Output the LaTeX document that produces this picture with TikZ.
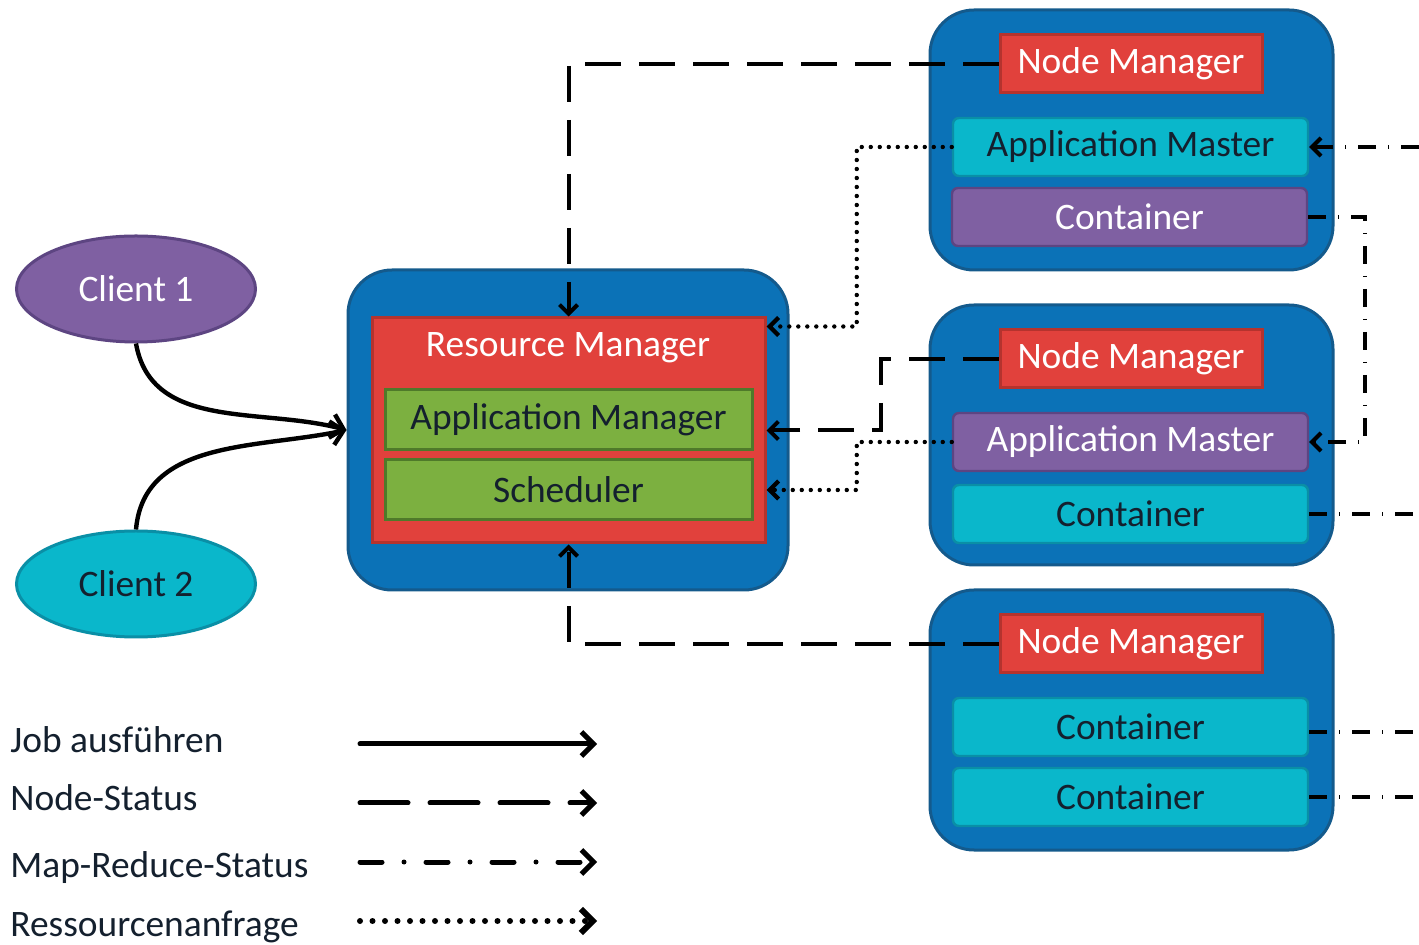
\documentclass[tikz,border=0pt]{standalone}
\usepackage{fontspec}
\setmainfont{Carlito}
\usetikzlibrary{arrows.meta,shapes.geometric}
\definecolor{cblue}{HTML}{0B72B7}
\definecolor{cbluedark}{HTML}{145A8C}
\definecolor{cred}{HTML}{E1413C}
\definecolor{creddark}{HTML}{B5332E}
\definecolor{cgreen}{HTML}{7CB040}
\definecolor{cgreendark}{HTML}{4F7A2A}
\definecolor{ccyan}{HTML}{0AB7CB}
\definecolor{ccyandark}{HTML}{0A8FA6}
\definecolor{cpurple}{HTML}{7F60A2}
\definecolor{cpurpledark}{HTML}{5D4582}
\definecolor{ctext}{HTML}{14202E}
\begin{document}
\begin{tikzpicture}[x=0.5pt,y=-0.5pt,
  font=\fontsize{18.7}{20}\selectfont,
  outerbox/.style={draw=cbluedark, fill=cblue, line width=1.5pt, rounded corners=22pt,
     minimum width=201.5pt, minimum height=130pt, inner sep=0pt},
  redbox/.style={draw=creddark, fill=cred, line width=1.5pt, inner sep=0pt, text=white},
  nmbox/.style={redbox, minimum width=131pt, minimum height=29pt},
  greenbox/.style={draw=cgreendark, fill=cgreen, line width=1.5pt, inner sep=0pt,
     minimum width=183.5pt, minimum height=30pt, text=ctext},
  cyanbox/.style={draw=ccyandark, fill=ccyan, line width=1.2pt, rounded corners=3pt, inner sep=0pt,
     minimum width=177.5pt, minimum height=29pt, text=ctext},
  purplebox/.style={draw=cpurpledark, fill=cpurple, line width=1.2pt, rounded corners=3pt, inner sep=0pt,
     minimum width=177.5pt, minimum height=29pt, text=white},
  client/.style={ellipse, draw, line width=1.5pt, minimum width=119.5pt, minimum height=53pt, inner sep=0pt},
  tip/.style={-{Straight Barb[length=4.5pt,width=9pt]}},
  bigtip/.style={-{Straight Barb[length=6pt,width=12pt]}},
  job/.style={line width=2.2pt, -{Straight Barb[length=6pt,width=12pt]}},
  nstat/.style={line width=2pt, dash pattern=on 18pt off 9pt, tip},
  mrstat/.style={line width=2pt, dash pattern=on 9pt off 6pt on 0.5pt off 6pt, tip},
  ressource/.style={line width=2.2pt, line cap=round, dash pattern=on 0pt off 4.5pt, tip},
  legtext/.style={anchor=west, text=ctext, inner sep=0pt}
]
\useasboundingbox (0,0) rectangle (1419,945);

% Resource manager block
\node[outerbox, minimum width=220pt, minimum height=160pt] (rmouter) at (568,430) {};
\node[redbox, minimum width=196.5pt, minimum height=112.5pt] (rmred) at (568.5,430.5) {};
\node[text=white, inner sep=0pt] (rmtext) at (568,348) {Resource Manager};
\node[greenbox] (appmgr) at (568.5,420) {Application Manager};
\node[greenbox] (sched) at (568.5,490) {Scheduler};

% Clients
\node[client, draw=cpurpledark, fill=cpurple, text=white] (client1) at (136,289) {Client 1};
\node[client, draw=ccyandark, fill=ccyan, text=ctext] (client2) at (136,584) {Client 2};

% Node 1
\node[outerbox] (node1) at (1131.5,140) {};
\node[nmbox] (nm1) at (1131,64) {Node Manager};
\node[cyanbox] (am1) at (1130.5,147) {Application Master};
\node[purplebox] (c1) at (1129.5,217) {Container};

% Node 2
\node[outerbox] (node2) at (1131.5,435) {};
\node[nmbox] (nm2) at (1131,359) {Node Manager};
\node[purplebox] (am2) at (1130.5,442) {Application Master};
\node[cyanbox] (c2) at (1130.5,514) {Container};

% Node 3
\node[outerbox] (node3) at (1131.5,720) {};
\node[nmbox] (nm3) at (1131,644) {Node Manager};
\node[cyanbox] (c3) at (1130.5,727) {Container};
\node[cyanbox] (c4) at (1130.5,797) {Container};

% Job connectors
\draw[job] (client1.south) to[out=-80,in=165] (rmouter.west);
\draw[job] (client2.north) to[out=85,in=192] (rmouter.west);

% Node status
\draw[nstat] (nm1.west) -| (rmred.north);
\draw[nstat] (nm2.west) -- ++(-118,0) |- (rmred.east);
\draw[nstat] (nm3.west) -| (rmred.south);

% Resource requests
\draw[ressource] (am1.west) -- ++(-95,0) |- ([yshift=-5pt]rmred.north east);
\draw[ressource] (am2.west) -- ++(-95,0) |- (rmred.east |- sched.east);

% Map-Reduce status
\coordinate (r1) at (1419,147);
\coordinate (r2) at (1419,514);
\coordinate (r3) at (1419,732);
\coordinate (r4) at (1419,797);
\draw[mrstat] (r1) -- (am1.east);
\draw[mrstat] (c1.east) -- ++(57,0) |- (am2.east);
\draw[mrstat, -] (c2.east) -- (r2);
\draw[mrstat, -] ([yshift=-2.5pt]c3.east) -- (r3);
\draw[mrstat, -] (c4.east) -- (r4);

% Legend
\node[legtext] (l1) at (10,740) {Job ausführen};
\node[legtext] (l2) at (10,798) {Node-Status};
\node[legtext] (l3) at (10,868) {Map-Reduce-Status};
\node[legtext] (l4) at (10,927) {Ressourcenanfrage};
\coordinate (a1s) at (360,744); \coordinate (a1e) at (597,744);
\coordinate (a2s) at (360,803); \coordinate (a2e) at (597,803);
\coordinate (a3s) at (360,862); \coordinate (a3e) at (597,862);
\coordinate (a4s) at (360,921); \coordinate (a4e) at (597,921);
\draw[line width=2.5pt, line cap=round, bigtip] (a1s) -- (a1e);
\draw[line width=2.5pt, line cap=round, dash pattern=on 24pt off 11pt, bigtip] (a2s) -- (a2e);
\draw[line width=2.5pt, line cap=round, dash pattern=on 11pt off 11pt on 0pt off 11pt, bigtip] (a3s) -- (a3e);
\draw[line width=3pt, line cap=round, dash pattern=on 0pt off 6.25pt, bigtip] (a4s) -- (a4e);
\end{tikzpicture}
\end{document}
